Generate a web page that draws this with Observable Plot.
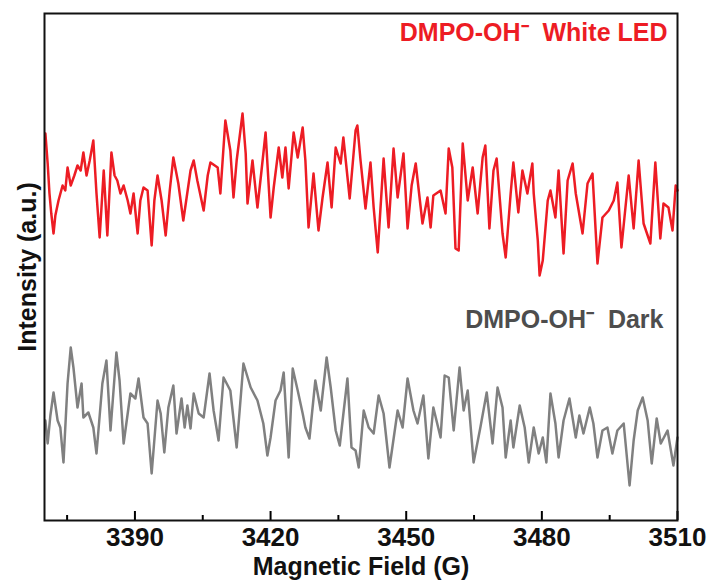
<!DOCTYPE html>
<html>
<head>
<meta charset="utf-8">
<script src="https://cdn.jsdelivr.net/npm/d3@7"></script>
<script src="https://cdn.jsdelivr.net/npm/@observablehq/plot@0.6"></script>
<style>
  html, body { margin: 0; padding: 0; background: #fff; }
  #chart { width: 710px; height: 583px; }
</style>
</head>
<body>
<div id="chart"></div>
<script>
// Magnetic field (G) and intensity (a.u.)
const redField = [
  3370.2,3370.7,3371.1,3371.5,3372.0,3372.4,3373.1,3374.0,3374.6,3375.1,
  3375.8,3376.6,3377.3,3378.0,3378.6,3379.3,3380.0,3380.8,3381.5,3382.2,
  3383.1,3383.9,3384.8,3385.5,3386.1,3386.8,3387.5,3388.4,3389.0,3389.7,
  3390.6,3391.2,3391.9,3392.8,3393.7,3394.3,3395.0,3395.9,3396.8,3397.7,
  3398.5,3399.6,3400.7,3402.3,3403.0,3403.8,3405.2,3406.1,3406.7,3408.3,
  3408.9,3410.0,3411.1,3411.8,3412.5,3413.8,3414.5,3414.9,3416.0,3417.1,
  3418.0,3418.9,3420.0,3420.7,3421.8,3422.6,3423.3,3424.0,3425.1,3426.0,
  3427.1,3427.7,3428.4,3429.5,3430.6,3431.5,3432.6,3433.5,3434.4,3435.5,
  3436.1,3437.5,3438.8,3439.2,3439.9,3441.0,3442.1,3442.8,3443.7,3445.0,
  3446.1,3447.2,3448.1,3449.4,3450.3,3451.2,3452.1,3453.6,3454.7,3455.4,
  3456.0,3457.6,3458.7,3459.4,3460.2,3460.9,3461.6,3462.5,3463.6,3464.7,
  3465.8,3466.9,3467.5,3468.4,3469.3,3470.0,3471.3,3472.0,3473.1,3473.7,
  3474.8,3475.7,3476.8,3477.9,3478.2,3479.1,3479.5,3480.2,3481.3,3481.9,
  3483.0,3483.7,3484.8,3485.7,3486.8,3487.5,3489.0,3490.1,3491.2,3492.3,
  3493.4,3494.8,3495.9,3496.7,3497.6,3499.2,3500.3,3501.4,3502.5,3504.0,
  3505.1,3506.2,3506.9,3508.0,3508.9,3509.6,3510.0
];
const redIntensity = [
  387,357,327,307,287,305,320,335,330,353,
  335,345,355,350,368,345,360,380,327,283,
  350,285,368,345,340,327,335,320,307,327,
  287,320,333,330,275,320,345,320,285,330,
  363,337,300,350,360,340,310,345,358,353,
  327,400,370,323,360,407,367,317,360,313,
  350,388,303,333,373,343,373,332,388,363,
  393,360,293,347,290,323,358,313,373,357,
  383,322,390,395,360,312,358,313,268,362,
  293,372,323,367,292,335,357,297,323,293,
  325,330,307,372,353,272,270,377,320,353,
  307,363,375,292,350,362,287,263,327,358,
  308,350,327,357,327,280,245,260,320,330,
  303,350,267,340,357,327,287,337,347,257,
  303,310,320,338,273,345,292,360,297,277,
  358,282,317,313,290,335,330
];
const grayField = [
  3370.2,3370.7,3371.3,3372.0,3372.9,3373.5,3374.2,3375.1,3375.8,3376.4,
  3377.3,3378.2,3378.6,3379.7,3380.8,3381.5,3382.8,3383.7,3384.6,3385.9,
  3386.6,3387.5,3389.0,3390.1,3390.8,3391.9,3392.8,3393.7,3395.0,3395.7,
  3396.5,3397.4,3398.5,3399.2,3400.3,3401.0,3401.6,3402.3,3403.0,3404.1,
  3405.2,3406.5,3407.4,3408.5,3409.6,3411.1,3412.5,3414.0,3415.6,3417.1,
  3418.4,3419.3,3420.0,3421.1,3422.2,3422.9,3424.0,3424.9,3426.0,3427.1,
  3427.7,3428.6,3429.9,3431.1,3432.4,3433.3,3434.4,3435.3,3437.0,3437.9,
  3438.8,3439.5,3440.6,3441.7,3442.8,3443.9,3445.0,3446.3,3448.1,3449.2,
  3450.3,3451.6,3452.5,3453.8,3454.9,3456.0,3457.6,3458.5,3459.4,3460.5,
  3461.8,3462.7,3463.6,3464.9,3466.4,3467.8,3469.1,3470.2,3471.3,3472.0,
  3473.1,3473.7,3475.1,3476.2,3477.1,3478.2,3479.3,3480.2,3481.0,3481.9,
  3483.0,3483.7,3484.8,3486.1,3487.5,3488.3,3489.2,3490.6,3491.4,3492.3,
  3493.4,3494.5,3495.6,3496.7,3498.1,3499.4,3500.3,3501.2,3502.3,3503.4,
  3504.3,3505.4,3506.3,3507.8,3509.1,3510.0
];
const grayIntensity = [
  100,77,105,128,100,93,58,137,173,153,
  113,137,103,108,93,67,137,160,90,168,
  140,77,127,122,142,103,97,47,120,107,
  68,113,135,87,122,93,115,92,127,107,
  103,147,110,80,143,130,73,157,133,120,
  97,65,83,120,130,148,63,152,130,107,
  93,82,140,110,163,133,90,75,142,73,
  70,53,110,93,87,125,107,53,110,93,
  142,110,97,125,62,113,83,145,143,90,
  153,110,130,58,93,128,77,133,113,63,
  100,73,115,93,58,93,67,83,58,127,
  97,63,100,122,83,105,87,113,97,63,
  90,93,67,90,97,35,80,110,123,100,
  57,102,77,90,55,83
];
const majorTicks = [3390, 3420, 3450, 3480, 3510];
const minorTicks = [3375, 3405, 3435, 3465, 3495];
const seriesLabels = ["DMPO-OH\u207B  White LED", "DMPO-OH\u207B  Dark"];
const xTitle = "Magnetic Field (G)";
const yTitle = "Intensity (a.u.)";

const red = redField.map((f, i) => ({field: f, intensity: redIntensity[i]}));
const gray = grayField.map((f, i) => ({field: f, intensity: grayIntensity[i]}));

const FONT = "'Liberation Sans', Arial, Helvetica, sans-serif";
const RED = "#ed1c24";

const chart = Plot.plot({
  width: 710,
  height: 583,
  marginLeft: 44,
  marginRight: 33,
  marginTop: 13,
  marginBottom: 63,
  style: {fontFamily: FONT, background: "#fff", overflow: "visible"},
  x: {domain: [3370, 3510]},
  y: {domain: [0, 507], axis: null},
  marks: [
    Plot.line(gray, {x: "field", y: "intensity", stroke: "#808080", strokeWidth: 2.5, strokeLinejoin: "round"}),
    Plot.line(red, {x: "field", y: "intensity", stroke: RED, strokeWidth: 2.5, strokeLinejoin: "round"}),
    Plot.axisX({ticks: majorTicks, tickSize: 0, tickPadding: 7, fontSize: 26, fontWeight: "bold", fill: "#111", label: null, tickFormat: d => String(d)}),
    Plot.axisX({ticks: majorTicks, tickSize: -9, strokeWidth: 2, text: null, label: null}),
    Plot.axisX({ticks: minorTicks, tickSize: -5, strokeWidth: 2, text: null, label: null}),
    Plot.frame({stroke: "#111", strokeWidth: 2}),
    Plot.text([seriesLabels[0]], {frameAnchor: "top-right", dx: -10, dy: 10, textAnchor: "end", lineAnchor: "top", fontSize: 25, fontWeight: "bold", fill: RED}),
    Plot.text([seriesLabels[1]], {frameAnchor: "top-right", dx: -14, dy: 297, textAnchor: "end", lineAnchor: "top", fontSize: 25, fontWeight: "bold", fill: "#4d4d4d"}),
    Plot.text([xTitle], {frameAnchor: "bottom", dy: 37, lineAnchor: "top", fontSize: 25, fontWeight: "bold", fill: "#111"}),
    Plot.text([yTitle], {frameAnchor: "left", dx: -17, rotate: -90, textAnchor: "middle", fontSize: 25, fontWeight: "bold", fill: "#111"})
  ]
});
document.getElementById("chart").appendChild(chart);
</script>
</body>
</html>
